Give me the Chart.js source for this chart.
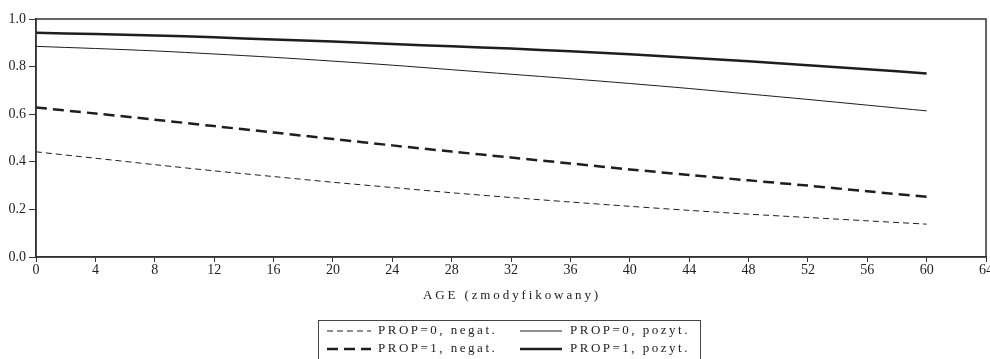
<!DOCTYPE html>
<html lang="pl">
<head>
    <meta charset="utf-8" />
    <title>Prawdopodobieństwo a AGE</title>
    <script src="https://cdn.jsdelivr.net/npm/chart.js"></script>
    <style>
        html, body { margin: 0; padding: 0; background: #fff; }
        .wrap { position: relative; width: 990px; height: 359px; font-family: "Liberation Serif", "DejaVu Serif", serif; color: #222; }
        canvas { position: absolute; left: 0; top: 0; }
        .axis-title {
            position: absolute; left: 0; width: 1024px; top: 287px;
            text-align: center; font-size: 13px; letter-spacing: 2.9px;
        }
        .legend {
            position: absolute; left: 318px; top: 320px; width: 383px; height: 40px;
            border: 1px solid #444; box-sizing: border-box;
            font-size: 13px; letter-spacing: 2.5px;
        }
        .legend .item { position: absolute; height: 14px; line-height: 14px; white-space: nowrap; }
        .legend svg { position: absolute; left: 0; top: 0; }
        .legend span { position: absolute; top: 0; }
    </style>
</head>
<body>
    <div class="wrap">
        <canvas id="chart" width="990" height="359"></canvas>
        <div class="axis-title">AGE (zmodyfikowany)</div>
        <div class="legend" id="legend"></div>
    </div>

    <script>
        // wiek (oś X) i przewidywane prawdopodobieństwa
        const ages = [0, 4, 8, 12, 16, 20, 24, 28, 32, 36, 40, 44, 48, 52, 56, 60];
        const prop0Negat = [0.442, 0.415, 0.388, 0.362, 0.338, 0.314, 0.292, 0.270, 0.250, 0.231, 0.213, 0.196, 0.180, 0.166, 0.152, 0.138];
        const prop1Negat = [0.628, 0.603, 0.577, 0.550, 0.523, 0.496, 0.469, 0.443, 0.418, 0.393, 0.368, 0.345, 0.322, 0.300, 0.276, 0.253];
        const prop0Pozyt = [0.885, 0.876, 0.866, 0.853, 0.839, 0.823, 0.806, 0.787, 0.768, 0.749, 0.729, 0.708, 0.685, 0.662, 0.638, 0.614];
        const prop1Pozyt = [0.942, 0.937, 0.931, 0.923, 0.914, 0.905, 0.895, 0.885, 0.876, 0.864, 0.852, 0.837, 0.822, 0.806, 0.789, 0.771];
        const seriesLabels = ['PROP=0, negat.', 'PROP=1, negat.', 'PROP=0, pozyt.', 'PROP=1, pozyt.'];
        const xTicks = [0, 4, 8, 12, 16, 20, 24, 28, 32, 36, 40, 44, 48, 52, 56, 60, 64];
        const yTicks = [0.0, 0.2, 0.4, 0.6, 0.8, 1.0];

        const ink = '#1e1e1e';
        const styles = [
            { width: 1, dash: [6, 4] },
            { width: 2.5, dash: [11, 6] },
            { width: 1, dash: [] },
            { width: 2.5, dash: [] }
        ];
        const seriesData = [prop0Negat, prop1Negat, prop0Pozyt, prop1Pozyt];

        const datasets = seriesData.map((vals, i) => ({
            label: seriesLabels[i],
            data: ages.map((a, j) => ({ x: a, y: vals[j] })),
            borderColor: ink,
            borderWidth: styles[i].width,
            borderDash: styles[i].dash,
            pointRadius: 0,
            fill: false,
            tension: 0.3
        }));

        // ramka wokół obszaru wykresu
        const framePlugin = {
            id: 'frame',
            afterDraw(chart) {
                const { ctx, chartArea: a } = chart;
                ctx.save();
                ctx.strokeStyle = '#333';
                ctx.lineWidth = 1.5;
                ctx.strokeRect(a.left, a.top, a.right - a.left, a.bottom - a.top);
                ctx.restore();
            }
        };

        const tickFont = { family: '"Liberation Serif", serif', size: 14 };

        new Chart(document.getElementById('chart'), {
            type: 'line',
            data: { datasets },
            plugins: [framePlugin],
            options: {
                responsive: false,
                animation: false,
                layout: { padding: { top: 19, right: 4, left: 0, bottom: 0 } },
                plugins: { legend: { display: false }, tooltip: { enabled: false } },
                scales: {
                    x: {
                        type: 'linear',
                        min: 0,
                        max: 64,
                        afterBuildTicks: s => { s.ticks = xTicks.map(v => ({ value: v })); },
                        afterFit: s => { s.height = 102; s.paddingRight = 0; },
                        grid: { drawOnChartArea: false, tickLength: 5, color: '#333', lineWidth: 1 },
                        border: { color: '#333', width: 1.5 },
                        ticks: { color: ink, font: tickFont, padding: 0, maxRotation: 0, autoSkip: false }
                    },
                    y: {
                        min: 0,
                        max: 1,
                        afterBuildTicks: s => { s.ticks = yTicks.map(v => ({ value: v })); },
                        afterFit: s => { s.width = 36; },
                        grid: { drawOnChartArea: false, tickLength: 7, color: '#333', lineWidth: 1 },
                        border: { color: '#333', width: 1.5 },
                        ticks: { color: ink, font: tickFont, padding: 3, callback: v => v.toFixed(1) }
                    }
                }
            }
        });

        // legenda w ramce (dwie kolumny)
        const legendPos = [
            { left: 8, top: 2, lineW: 44, textX: 51 },
            { left: 8, top: 20, lineW: 44, textX: 51 },
            { left: 201, top: 2, lineW: 42, textX: 50 },
            { left: 201, top: 20, lineW: 42, textX: 50 }
        ];
        const legend = document.getElementById('legend');
        seriesLabels.forEach((lab, i) => {
            const p = legendPos[i];
            const item = document.createElement('div');
            item.className = 'item';
            item.style.left = p.left + 'px';
            item.style.top = p.top + 'px';
            item.innerHTML =
                '<svg width="' + p.lineW + '" height="14"><line x1="0" y1="8" x2="' + p.lineW + '" y2="8" stroke="' + ink +
                '" stroke-width="' + styles[i].width + '" stroke-dasharray="' + (styles[i].dash.join(' ') || 'none') + '"/></svg>' +
                '<span style="left:' + p.textX + 'px">' + lab + '</span>';
            legend.appendChild(item);
        });
    </script>
</body>
</html>
